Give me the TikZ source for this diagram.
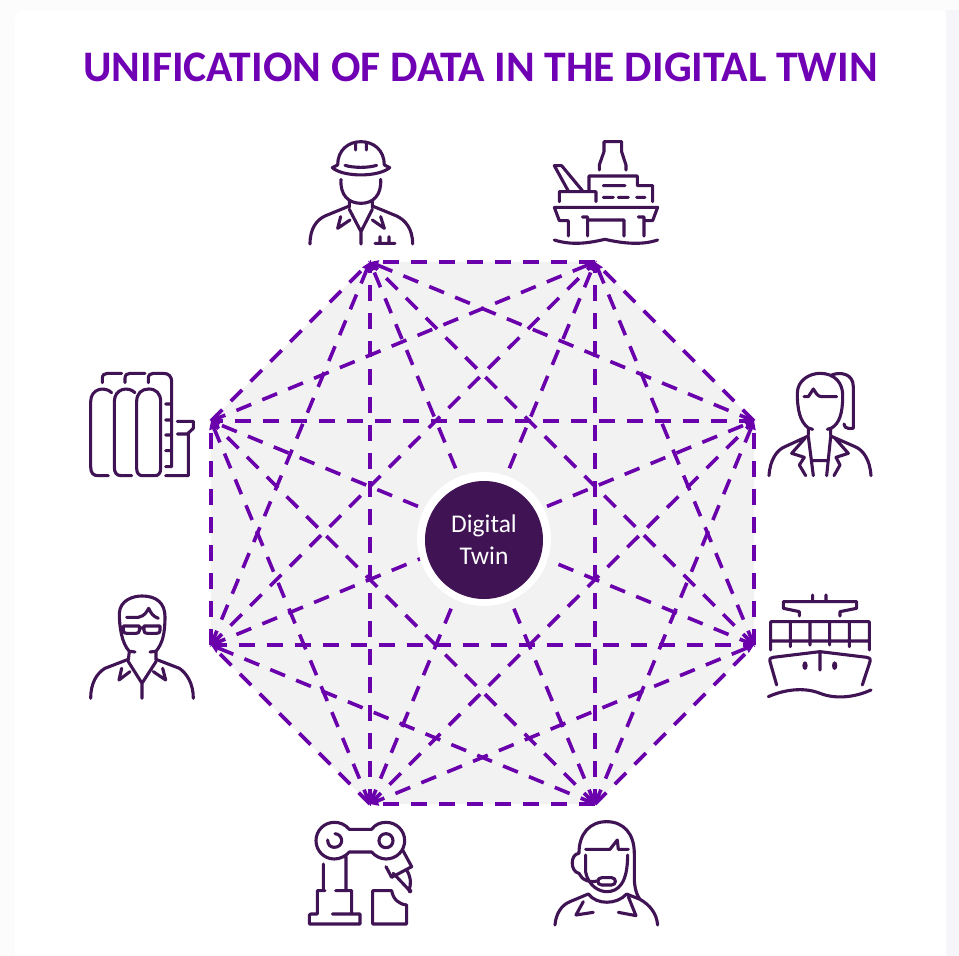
\documentclass[tikz,border=0pt]{standalone}
\usepackage{fontspec}
\setmainfont{Carlito}
\usetikzlibrary{arrows.meta}
\definecolor{iconc}{HTML}{3F1354}
\definecolor{linkc}{HTML}{6A00AC}
\definecolor{titlec}{HTML}{7000B4}
\definecolor{pagec}{HTML}{FCFCFD}
\definecolor{edgec}{HTML}{F6F5F9}
\definecolor{octc}{HTML}{F2F2F2}
\tikzset{
  icon/.style={draw=iconc,line width=3.1pt,line cap=round,line join=round,x=0.3333pt,y=-0.3333pt},
  iconfill/.style={fill=iconc,x=0.3333pt,y=-0.3333pt},
  rim/.style={draw=linkc,line width=3.6pt,dash pattern=on 16pt off 12pt},
  link/.style={draw=linkc,line width=3.6pt,dash pattern=on 16pt off 12pt,dash phase=8pt,
    {Triangle[length=8pt,width=10pt]}-{Triangle[length=8pt,width=10pt]}},
}
\begin{document}
\begin{tikzpicture}[x=1pt,y=-1pt]
\useasboundingbox (0,0) rectangle (959,956);
\fill[pagec] (0,0) rectangle (959,956);
\fill[edgec] (946,10) rectangle (959,956);
\fill[white,rounded corners=8pt] (15,10) rectangle (946,970);
\node[text=titlec,font=\bfseries\fontsize{43.6pt}{46pt}\selectfont,anchor=center] (title) at (480.5,67) {UNIFICATION OF DATA IN THE DIGITAL TWIN};
\coordinate (v1) at (370,262);
\coordinate (v2) at (595,262);
\coordinate (v3) at (754,421);
\coordinate (v4) at (754,645);
\coordinate (v5) at (595,804);
\coordinate (v6) at (370,804);
\coordinate (v7) at (211,645);
\coordinate (v8) at (211,421);
\fill[octc] (v1)--(v2)--(v3)--(v4)--(v5)--(v6)--(v7)--(v8)--cycle;
% the eight sides carry no heads
\foreach \a/\b in {v2/v1,v3/v2,v4/v3,v5/v4,v5/v6,v6/v7,v7/v8,v8/v1}{\draw[rim] (\a) -- (\b);}
% horizontal lines start at the right, all others at the lower end
\foreach \a/\b in {
 v3/v1,v4/v1,v5/v1,v6/v1,v7/v1,
 v4/v2,v5/v2,v6/v2,v7/v2,v8/v2,
 v5/v3,v6/v3,v7/v3,v3/v8,
 v6/v4,v7/v4,v4/v8,
 v5/v7,v5/v8,
 v6/v8}{\draw[link] (\a) -- (\b);}
\node[circle,fill=white,minimum size=134pt,inner sep=0pt] (ring) at (484,539) {};
\node[circle,fill=iconc,minimum size=118pt,inner sep=0pt,text=white,align=center,font=\fontsize{25.5pt}{32pt}\selectfont,yshift=-1pt] (twin) at (484,539) {Digital\\Twin};
% worker
\begin{scope}[shift={(290,120)}]
\path[icon]
 (143,135) .. controls (143,90) and (175,65) .. (213,65) .. controls (250,65) and (283,90) .. (283,135)
 (197,90)--(197,68) (229,90)--(229,68)
 (143,135)--(127,143) .. controls (160,172) and (265,172) .. (299,143)--(283,135)
 (165,136) .. controls (190,144) and (235,144) .. (260,136)
 (153,178) .. controls (150,225) and (175,250) .. (213,250) .. controls (250,250) and (275,225) .. (272,178)
 (178,245)--(178,262) (247,245)--(247,262)
 (60,372) .. controls (60,325) and (80,300) .. (105,288)--(178,258)
 (368,372) .. controls (368,325) and (345,300) .. (320,288)--(247,258)
 (178,268)--(213,335)--(247,268) (213,335)--(213,372)
 (152,290)--(143,325)--(180,300) (272,290)--(283,325)--(247,300)
 (255,370)--(315,370) (270,350)--(270,370) (297,350)--(297,370);
% rig
\path[icon]
 (928,150)--(928,135)--(942,95)--(942,65)--(995,65)--(995,95)--(1008,135)--(1008,150)
 (878,213)--(815,137)--(793,137)--(835,213)
 (897,213)--(897,168)--(1042,168)--(1042,197)--(1088,197)--(1088,245)
 (808,245)--(808,215)--(918,215)--(918,245)
 (940,197)--(1005,197) (940,232)--(970,232) (985,232)--(1015,232) (1040,232)--(1065,232)
 (793,262)--(1103,262)--(1088,302)--(1062,302) (793,262)--(808,302)--(835,302)
 (835,302)--(835,348) (893,291)--(893,348) (877,291)--(893,291) (893,300)--(1002,300)--(1002,348)
 (1045,291)--(1062,291)--(1062,348)
 (793,360) .. controls (850,378) and (900,368) .. (945,358) .. controls (990,368) and (1050,378) .. (1103,360);
\end{scope}
% tanks and man
\begin{scope}[shift={(70,350)}]
\path[icon]
 (125,128) .. controls (105,108) and (62,115) .. (62,155)--(62,350) .. controls (62,370) and (70,377) .. (85,377)--(115,377)
 (195,128) .. controls (175,108) and (133,115) .. (133,155)--(133,350) .. controls (133,370) and (140,377) .. (155,377)--(185,377)
 (200,155) .. controls (200,130) and (215,117) .. (236,117) .. controls (258,117) and (272,130) .. (272,155)--(272,355) .. controls (272,370) and (265,377) .. (255,377)--(218,377) .. controls (207,377) and (200,370) .. (200,355)--cycle
 (97,98)--(97,85) .. controls (97,75) and (103,70) .. (112,70)--(155,70)
 (165,98)--(165,85) .. controls (165,75) and (171,70) .. (180,70)--(225,70)
 (235,98)--(235,85) .. controls (235,75) and (241,70) .. (250,70)--(280,70) .. controls (297,70) and (305,80) .. (305,95)--(305,350)--(287,350)
 (287,162)--(305,162) (287,210)--(305,210) (287,255)--(305,255) (287,302)--(305,302)
 (322,214)--(370,214)--(370,235)--(352,252)--(322,252) (355,252)--(355,377)--(287,377)
 (195,906)--(178,904) .. controls (155,880) and (148,830) .. (148,790) .. controls (150,750) and (190,738) .. (216,738) .. controls (260,738) and (285,760) .. (285,800) .. controls (285,850) and (278,880) .. (258,904)--(240,906)
 (170,802)--(205,802) .. controls (225,798) and (230,785) .. (236,775) .. controls (243,790) and (250,800) .. (265,805)
 (160,828)--(208,828) (222,828)--(270,828) (208,834)--(222,834)
 (160,828)--(160,842) .. controls (160,848) and (164,850) .. (170,850)--(198,850) .. controls (204,850) and (208,848) .. (208,842)--(208,828)
 (222,828)--(222,842) .. controls (222,848) and (226,850) .. (232,850)--(260,850) .. controls (266,850) and (270,848) .. (270,842)--(270,828)
 (178,904)--(175,930) (258,904)--(258,930)
 (62,1045) .. controls (62,1000) and (80,970) .. (105,955)--(175,928)
 (370,1045) .. controls (370,1000) and (350,970) .. (328,955)--(258,928)
 (175,935)--(216,1000)--(258,935) (216,1000)--(216,1045)
 (155,955)--(147,990)--(180,965) (278,955)--(287,990)--(250,965);
\end{scope}
% woman and ship
\begin{scope}[shift={(740,350)}]
\path[icon]
 (218,238)--(205,234) .. controls (180,215) and (172,180) .. (172,130) .. controls (172,90) and (210,70) .. (240,70) .. controls (285,70) and (310,100) .. (308,140) .. controls (308,190) and (298,220) .. (275,234)--(262,238)
 (275,75) .. controls (300,65) and (340,70) .. (340,110)--(340,235)--(325,235) .. controls (317,235) and (313,230) .. (312,222)
 (192,140)--(205,140)--(220,117) .. controls (228,128) and (232,140) .. (245,140)--(290,140)
 (205,234)--(205,255) (272,234)--(272,255)
 (87,377) .. controls (90,330) and (110,300) .. (135,290)--(205,258)
 (393,377) .. controls (390,330) and (370,300) .. (345,290)--(272,258)
 (195,265)--(155,310)--(193,322)--(178,345)--(197,377)
 (285,265)--(325,310)--(288,322)--(300,345)--(282,377)
 (205,260)--(220,377) (272,260)--(260,377) (218,332)--(262,332)
 (218,735)--(218,755) (258,735)--(258,755)
 (178,798)--(178,785)--(130,775)--(130,755)--(350,755)--(350,775)--(300,785)--(300,798)
 (92,900)--(92,815)--(388,815)--(388,900) (92,873)--(388,873)
 (151,815)--(151,890) (210,815)--(210,885) (269,815)--(269,885) (328,815)--(328,890)
 (110,1005)--(90,935) .. controls (88,925) and (92,923) .. (100,922)--(240,905)--(380,922) .. controls (388,923) and (392,925) .. (390,935)--(367,1005)
 (240,905)--(240,960)
 (85,1040) .. controls (130,1020) and (190,1010) .. (240,1030) .. controls (290,1050) and (350,1040) .. (393,1020);
\path[iconfill] (195,947) ellipse [x radius=8,y radius=13] (284,947) ellipse [x radius=8,y radius=13];
\end{scope}
% robot and agent
\begin{scope}[shift={(290,790)}]
\path[icon]
 (178,118) .. controls (165,103) and (150,97) .. (133,97) .. controls (102,97) and (78,122) .. (78,152) .. controls (78,182) and (102,207) .. (133,207) .. controls (150,207) and (168,198) .. (178,186)--(245,186) .. controls (255,198) and (272,207) .. (288,207) .. controls (320,207) and (344,182) .. (344,152) .. controls (344,122) and (320,97) .. (288,97) .. controls (272,97) and (255,103) .. (245,118)--cycle
 (113,150) .. controls (113,165) and (122,172) .. (133,172) .. controls (146,172) and (155,163) .. (155,152) .. controls (155,140) and (146,132) .. (135,131)
 (288,131) .. controls (300,131) and (309,140) .. (309,152) .. controls (309,164) and (300,173) .. (288,173) .. controls (276,173) and (267,164) .. (267,152) .. controls (267,140) and (276,131) .. (288,131)
 (168,200)--(168,300) (100,222)--(100,300)
 (105,302)--(82,302)--(82,372)--(62,372)--(58,376)--(58,402)--(210,402)--(210,372)--(127,372)
 (137,302)--(185,302)--(185,372)
 (338,180)--(365,230)--(305,262)--(288,230)
 (310,250)--(360,303) (350,240) .. controls (365,265) and (362,285) .. (358,298)
 (248,402)--(248,302)--(305,302) .. controls (310,328) and (325,342) .. (350,345)--(350,402)--cycle
 (867,190) .. controls (867,130) and (900,95) .. (950,95) .. controls (1000,95) and (1033,130) .. (1033,190)--(1033,270) .. controls (1035,305) and (1045,322) .. (1050,328) .. controls (1080,345) and (1100,370) .. (1103,405)
 (1050,328)--(1010,312)
 (795,405) .. controls (798,370) and (815,345) .. (840,335)--(895,312) .. controls (920,345) and (980,345) .. (1010,312)
 (880,335)--(858,375)--(910,367) (1015,320)--(1038,377)--(985,367)
 (887,178)--(960,178)--(982,150)--(985,178)--(1015,178)
 (887,195)--(887,245) .. controls (895,290) and (930,305) .. (950,305) .. controls (985,305) and (1013,280) .. (1013,195)
 (867,190) .. controls (840,192) and (840,245) .. (867,250) .. controls (875,270) and (900,280) .. (925,272)
 (935,263)--(965,263) .. controls (980,263) and (980,285) .. (965,285)--(935,285) .. controls (920,285) and (920,263) .. (935,263);
\path[iconfill] (360,303) circle [radius=7];
\end{scope}
\end{tikzpicture}
\end{document}
